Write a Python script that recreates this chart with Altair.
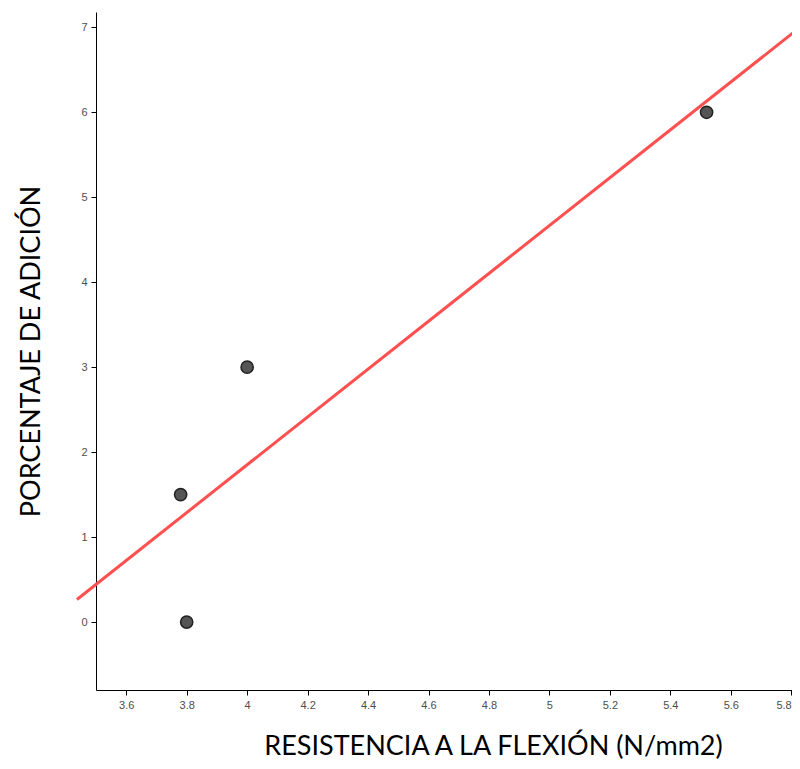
import altair as alt
import pandas as pd

resistencia = [3.78, 3.80, 4.00, 5.52]
porcentaje = [1.5, 0.0, 3.0, 6.0]
x_ticks = [3.6, 3.8, 4.0, 4.2, 4.4, 4.6, 4.8, 5.0, 5.2, 5.4, 5.6, 5.8]
y_ticks = [0, 1, 2, 3, 4, 5, 6, 7]

df = pd.DataFrame({"x": resistencia, "y": porcentaje})

x_enc = alt.X(
    "x:Q",
    scale=alt.Scale(domain=[3.5, 5.829], nice=False, zero=False),
    axis=alt.Axis(
        values=x_ticks, format="~g", grid=False,
        title="RESISTENCIA A LA FLEXIÓN (N/mm2)",
        titleFont="Lato", titleFontSize=27, titleFontWeight="normal", titleColor="#000000",
        titleX=397, titleY=64, titleAlign="center", titleBaseline="alphabetic",
        labelFont="Liberation Sans", labelFontSize=11, labelColor="#4d4d4d",
        labelAlign=alt.expr("datum.value >= 5.79 ? 'right' : 'center'"),
        domainColor="#000000", tickColor="#000000", tickSize=5, labelPadding=4,
    ),
)
y_enc = alt.Y(
    "y:Q",
    scale=alt.Scale(domain=[-0.8, 7.18], nice=False, zero=False),
    axis=alt.Axis(
        values=y_ticks, format="d", grid=False,
        title="PORCENTAJE DE ADICIÓN",
        titleFont="Lato", titleFontSize=27, titleFontWeight="normal", titleColor="#000000",
        titleX=-65, titleBaseline="middle",
        labelFont="Liberation Sans", labelFontSize=11, labelColor="#4d4d4d",
        domainColor="#000000", tickColor="#000000", tickSize=5, labelPadding=4,
    ),
)

line = alt.Chart(df).transform_regression(
    "x", "y", method="linear", extent=[3.437, 5.85]
).mark_line(color="#ff4f4f", strokeWidth=3, clip=False).encode(x=x_enc, y=y_enc)

points = alt.Chart(df).mark_point(
    filled=True, size=150, fill="#555555", stroke="#222222", strokeWidth=1.5, opacity=1
).encode(x="x:Q", y="y:Q")

chart = alt.layer(line, points).properties(
    width=704, height=678,
    autosize=alt.AutoSizeParams(type="none"),
    padding={"left": 88, "top": 4, "right": -8, "bottom": 71},
).configure_view(stroke=None)

chart.save("out.html", embed_options={"renderer": "svg", "actions": False})
